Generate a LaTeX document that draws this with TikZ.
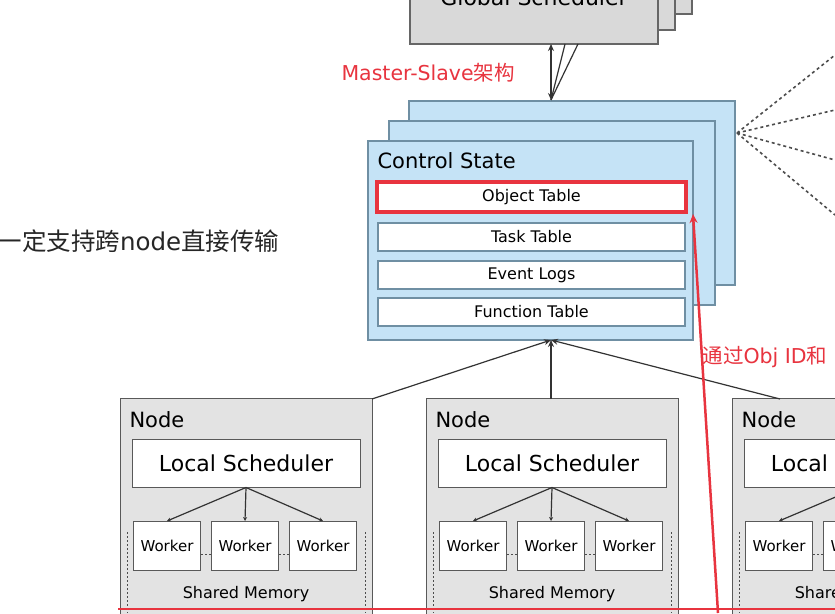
\documentclass[tikz,border=0pt]{standalone}
\usepackage{fontspec}
\setmainfont{DejaVu Sans}
\newfontfamily\cjk{Noto Sans CJK SC}
\usetikzlibrary{arrows.meta}
\definecolor{gsfill}{HTML}{D9D9D9}
\definecolor{csfill}{HTML}{C5E3F6}
\definecolor{csline}{HTML}{6F8FA3}
\definecolor{nfill}{HTML}{E3E3E3}
\definecolor{redc}{HTML}{E8343F}
\begin{document}
\begin{tikzpicture}[x=1pt,y=-1pt,
  gs/.style={draw=gray!80!black,fill=gsfill,line width=1.2pt},
  cs/.style={draw=csline,fill=csfill,line width=1.2pt},
  tab/.style={draw=csline,fill=white,line width=1.2pt,minimum width=307pt,minimum height=28pt,font=\fontsize{16}{17}\selectfont,inner sep=0pt},
  nd/.style={draw=gray!70!black,fill=nfill,line width=1pt},
  ls/.style={draw=gray!70!black,fill=white,line width=1pt,minimum width=228pt,minimum height=48pt,font=\fontsize{22}{24}\selectfont,inner sep=0pt},
  wk/.style={draw=gray!70!black,fill=white,line width=1pt,minimum width=67pt,minimum height=49pt,font=\fontsize{15}{16}\selectfont,inner sep=0pt},
  conn/.style={draw=black!80,line width=1.2pt},
  arr/.style={conn,-{Stealth[length=7pt,width=6pt]}},
  red/.style={draw=redc,line width=2.5pt},
  dots/.style={draw=black!70,line width=1.6pt,dash pattern=on 3pt off 3pt}]
\useasboundingbox (0,0) rectangle (835,613);
\fill[white] (0,0) rectangle (835,613);
% Global scheduler
\draw[gs] (444,-20) rectangle (692,14);
\draw[gs] (427,-20) rectangle (675,30);
\draw[gs] (410,-20) rectangle (658,44);
\node[font=\fontsize{22}{24}\selectfont] (gstext) at (534,-3) {Global Scheduler};
\coordinate (gs1) at (551,44);
\coordinate (gs2) at (565,44);
\coordinate (gs3) at (578,44);
% Control state
\draw[cs] (409,101) rectangle (735,285);
\draw[cs] (389,121) rectangle (715,305);
\draw[cs] (368,141) rectangle (693,340);
\coordinate (cstop) at (551,100);
\coordinate (csbot) at (551,340);
\coordinate (csr) at (737,133);
\node[anchor=west,font=\fontsize{21}{24}\selectfont] (cst) at (374,161) {Control State};
\node[tab,draw=redc,line width=3.5pt,minimum width=309pt,minimum height=30pt] (ot) at (531.5,197) {Object Table};
\node[tab] (tt) at (531.5,237) {Task Table};
\node[tab] (el) at (531.5,275) {Event Logs};
\node[tab] (ft) at (531.5,312) {Function Table};
% arrows GS-CS
\draw[conn,{Stealth[length=7pt,width=6pt]}-{Stealth[length=7pt,width=6pt]}] (gs1) -- (cstop);
\draw[conn] (gs2) -- (cstop);
\draw[conn] (gs3) -- (cstop);
% dotted lines
\foreach \y [count=\i] in {55,110,160,215} \coordinate (d\i) at (835,\y);
\foreach \i in {1,...,4} \draw[dots] (csr) -- (d\i);
% Nodes
\foreach \x/\n in {120/a,426/b,732/c}{
  \draw[nd] (\x,398) rectangle (\x+252,620);
  \node[anchor=west,font=\fontsize{21}{24}\selectfont] (nl\n) at (\x+6,420) {Node};
  \node[ls] (ls\n) at (\x+126,463) {Local Scheduler};
  \node[wk] (wa\n) at (\x+47,546) {Worker};
  \node[wk] (wb\n) at (\x+125,546) {Worker};
  \node[wk] (wc\n) at (\x+203,546) {Worker};
  \draw[conn,-{Stealth[length=4pt,width=4pt]}] (ls\n.south) -- (wa\n.north);
  \draw[conn,-{Stealth[length=4pt,width=4pt]}] (ls\n.south) -- (wb\n.north);
  \draw[conn,-{Stealth[length=4pt,width=4pt]}] (ls\n.south) -- (wc\n.north);
  \draw[black!70,dash pattern=on 2pt off 2pt,line width=1pt] (\x+7,532) -- (\x+7,613);
  \draw[black!70,dash pattern=on 2pt off 2pt,line width=1pt] (\x+245,532) -- (\x+245,613);
  \draw[black!70,dash pattern=on 2pt off 2pt,line width=1pt] (wa\n.east) ++(0,8) -- ++(11,0);
  \draw[black!70,dash pattern=on 2pt off 2pt,line width=1pt] (wb\n.east) ++(0,8) -- ++(11,0);
  \node[font=\fontsize{16}{18}\selectfont] (sm\n) at (\x+126,594) {Shared Memory};
}
\coordinate (na) at (372,399);
\coordinate (nb) at (551,399);
\coordinate (nc) at (780,399);
\draw[arr] (na) -- (csbot);
\draw[arr] (nb) -- (csbot);
\draw[arr] (nc) -- (csbot);
% red
\draw[red] (118,609) -- (835,609);
\coordinate (rb) at (718,613);
\draw[red,-{Stealth[length=9pt,width=8pt]}] (rb) -- (693,214);
\node[anchor=west,text=redc,font=\fontsize{20.5}{22}\selectfont] (ms) at (338,73) {Master-Slave{\cjk 架构}};
\node[anchor=west,text=redc,font=\fontsize{20.5}{22}\selectfont] (obj) at (699,357) {{\cjk 通过}Obj ID{\cjk 和}};
\node[anchor=west,text=black!85,font=\fontsize{24.5}{27}\selectfont] (left) at (-6,241) {{\cjk 一定支持跨}node{\cjk 直接传输}};
\end{tikzpicture}
\end{document}
